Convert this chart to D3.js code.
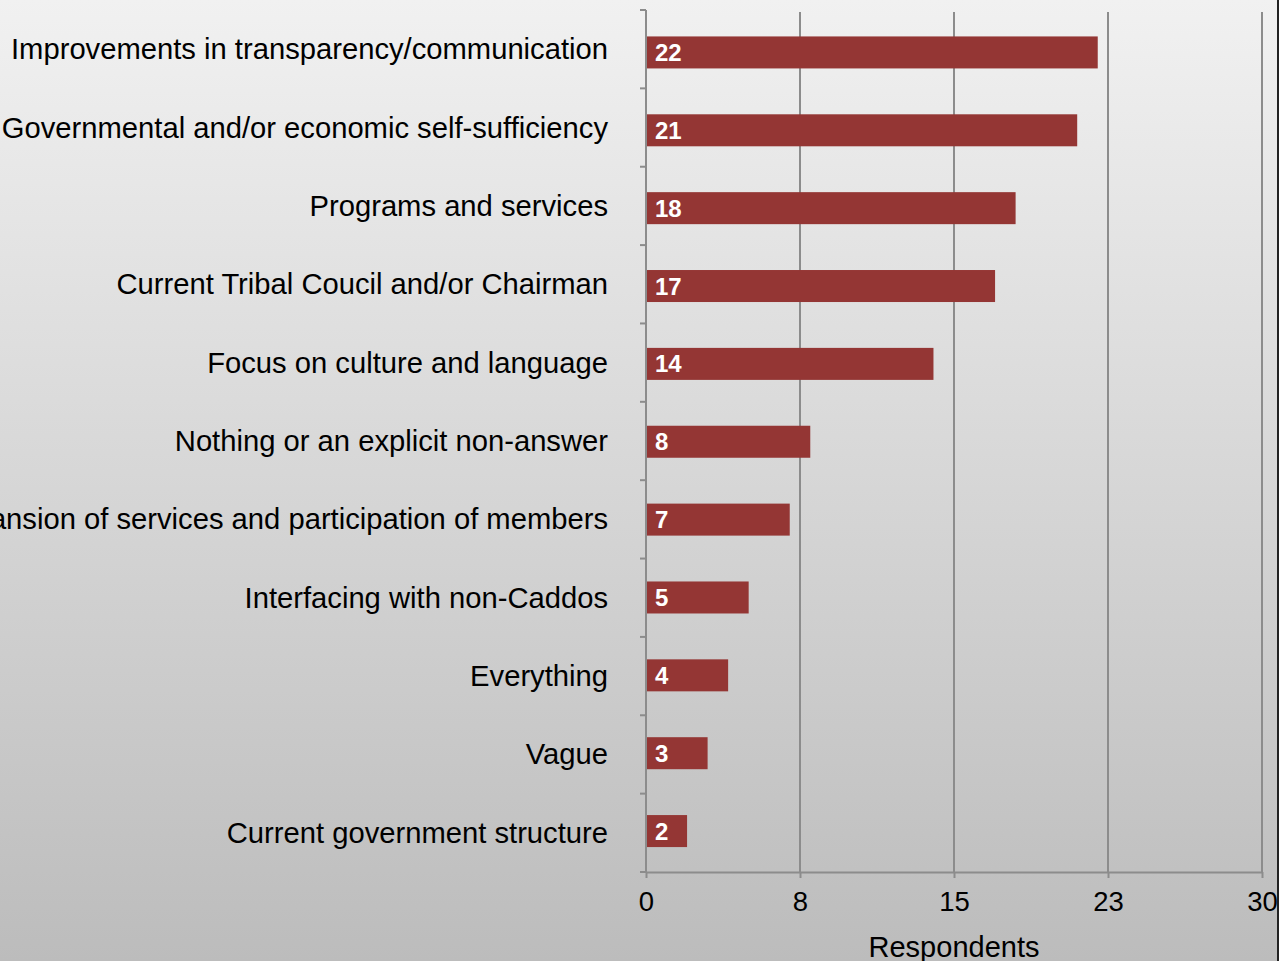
<!DOCTYPE html>
<html>
<head>
<meta charset="utf-8">
<script src="https://d3js.org/d3.v7.min.js"></script>
<style>
  * { margin:0; padding:0; }
  body { width:1279px; height:961px; overflow:hidden; font-family:'Liberation Sans', Arial, sans-serif; }
</style>
</head>
<body>
<svg id="chart" width="1279" height="961"></svg>
<script>
// ── Data ─────────────────────────────────────────────────────────────────────
const categories = [
  "Improvements in transparency/communication",
  "Governmental and/or economic self-sufficiency",
  "Programs and services",
  "Current Tribal Coucil and/or Chairman",
  "Focus on culture and language",
  "Nothing or an explicit non-answer",
  "Expansion of services and participation of members",
  "Interfacing with non-Caddos",
  "Everything",
  "Vague",
  "Current government structure"
];
const respondents = [22, 21, 18, 17, 14, 8, 7, 5, 4, 3, 2];
const xTicks = [0, 7.5, 15, 22.5, 30];
const xTitle = "Respondents";

// ── Layout ───────────────────────────────────────────────────────────────────
const W = 1279, H = 961;
const plot = { left: 646, right: 1262, top: 10, bottom: 872 };
const barColor = "#943634";
const axisColor = "#8c8c8c";

const svg = d3.select("#chart");

// background gradient
const defs = svg.append("defs");
const grad = defs.append("linearGradient").attr("id", "bg")
  .attr("x1", 0).attr("x2", 0).attr("y1", 0).attr("y2", 1);
grad.append("stop").attr("offset", "0%").attr("stop-color", "#f1f1f1");
grad.append("stop").attr("offset", "100%").attr("stop-color", "#bcbcbc");
svg.append("rect").attr("width", W).attr("height", H).attr("fill", "url(#bg)");
// thin dark edge on the right
svg.append("rect").attr("x", W - 2).attr("y", 0).attr("width", 2).attr("height", H).attr("fill", "#222");

const x = d3.scaleLinear().domain([0, 30]).range([plot.left, plot.right]);
// category band boundaries (axis ticks, labels) and bar placement
const y = d3.scaleBand().domain(categories).range([plot.top, plot.bottom]).padding(0);
const yBar = d3.scaleBand().domain(categories).range([13.5, 870]).padding(0);

// vertical gridlines
svg.append("g").selectAll("line")
  .data(xTicks.slice(1))
  .join("line")
  .attr("x1", d => x(d)).attr("x2", d => x(d))
  .attr("y1", plot.top + 2).attr("y2", plot.bottom)
  .attr("stroke", axisColor).attr("stroke-width", 2);

// x axis
const xAxis = svg.append("g")
  .attr("transform", "translate(0," + plot.bottom + ")")
  .call(d3.axisBottom(x).tickValues(xTicks).tickFormat(d3.format(".0f")).tickSize(6).tickSizeOuter(0).tickPadding(13));
xAxis.select(".domain").attr("stroke", axisColor).attr("stroke-width", 2);
xAxis.selectAll(".tick line").attr("stroke", axisColor).attr("stroke-width", 2);
xAxis.selectAll(".tick text").attr("fill", "#000").attr("font-size", 27.5)
  .attr("font-family", "'Liberation Sans', Arial, sans-serif");

// y axis line + boundary ticks
svg.append("line")
  .attr("x1", plot.left).attr("x2", plot.left)
  .attr("y1", plot.top).attr("y2", plot.bottom)
  .attr("stroke", axisColor).attr("stroke-width", 2);
const bounds = categories.map(c => y(c)).concat([plot.bottom]);
svg.append("g").selectAll("line")
  .data(bounds)
  .join("line")
  .attr("x1", plot.left - 6).attr("x2", plot.left)
  .attr("y1", d => d).attr("y2", d => d)
  .attr("stroke", axisColor).attr("stroke-width", 2);

// category labels
svg.append("g").selectAll("text")
  .data(categories)
  .join("text")
  .attr("x", 608)
  .attr("y", d => y(d) + y.bandwidth() / 2 + 10)
  .attr("text-anchor", "end")
  .attr("font-size", 29.2)
  .attr("fill", "#000")
  .text(d => d);

// bars
const barH = 32;
svg.append("g").selectAll("rect")
  .data(respondents)
  .join("rect")
  .attr("x", x(0) + 1)
  .attr("y", (d, i) => yBar(categories[i]) + yBar.bandwidth() / 2 - barH / 2)
  .attr("width", d => x(d) - x(0) - 1)
  .attr("height", barH)
  .attr("fill", barColor);

// value labels
svg.append("g").selectAll("text")
  .data(respondents)
  .join("text")
  .attr("x", x(0) + 9)
  .attr("y", (d, i) => yBar(categories[i]) + yBar.bandwidth() / 2 + 8.5)
  .attr("font-size", 24)
  .attr("font-weight", "bold")
  .attr("fill", "#fff")
  .text(d => d);

// axis title
svg.append("text")
  .attr("x", x(15))
  .attr("y", 957)
  .attr("text-anchor", "middle")
  .attr("font-size", 29)
  .attr("fill", "#000")
  .text(xTitle);
</script>
</body>
</html>
